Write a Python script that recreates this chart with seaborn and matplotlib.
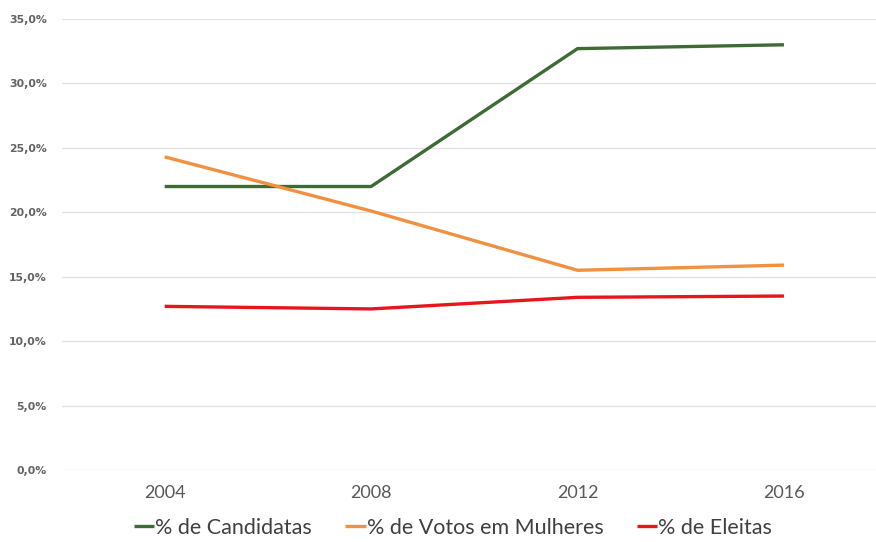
import matplotlib
matplotlib.use("Agg")
import matplotlib.pyplot as plt
import matplotlib.ticker as mticker
import pandas as pd
import seaborn as sns

# Election years and series values (fractions)
anos = ["2004", "2008", "2012", "2016"]
candidatas = [0.220, 0.220, 0.327, 0.330]
votos_mulheres = [0.243, 0.201, 0.155, 0.159]
eleitas = [0.127, 0.125, 0.134, 0.135]

series_nomes = ["% de Candidatas", "% de Votos em Mulheres", "% de Eleitas"]
cores = ["#3E6B35", "#F1903F", "#E8161C"]

df = pd.DataFrame({
    "ano": anos * 3,
    "valor": candidatas + votos_mulheres + eleitas,
    "serie": [series_nomes[0]] * 4 + [series_nomes[1]] * 4 + [series_nomes[2]] * 4,
})
df["pos"] = df["ano"].map({a: i for i, a in enumerate(anos)})

sns.set_theme(style="white")
plt.rcParams["font.family"] = ["Lato", "DejaVu Sans"]

fig = plt.figure(figsize=(8.76, 5.42), dpi=100)
ax = fig.add_axes([62 / 876, 72 / 542, 1 - 62 / 876, 451 / 542])

sns.lineplot(
    data=df, x="pos", y="valor", hue="serie", hue_order=series_nomes,
    palette=cores, linewidth=2.4, ax=ax, legend=True,
)
for ln in ax.lines:
    ln.set_solid_capstyle("butt")

ax.set_xlim(-0.4975, 3.446)
ax.set_ylim(0, 0.35)
ax.set_xticks(range(len(anos)))
ax.set_xticklabels(anos, fontsize=13, color="#595959")
ax.yaxis.set_major_locator(mticker.MultipleLocator(0.05))
ax.yaxis.set_major_formatter(
    mticker.FuncFormatter(lambda v, _: f"{v * 100:.1f}%".replace(".", ","))
)
for lab in ax.get_yticklabels():
    lab.set_fontsize(7.8)
    lab.set_color("#636363")
    lab.set_fontweight("bold")
    lab.set_family("DejaVu Sans")
ax.tick_params(axis="y", length=0, pad=11)
ax.tick_params(axis="x", length=0, pad=11)
ax.grid(axis="y", color="#E3E3E3", linewidth=1.0)
ax.grid(axis="x", visible=False)
ax.set_axisbelow(True)
for s in ax.spines.values():
    s.set_visible(False)
ax.set_xlabel("")
ax.set_ylabel("")

handles, labels = ax.get_legend_handles_labels()
ax.get_legend().remove()
fig.legend(
    handles, labels, loc="center", bbox_to_anchor=(453 / 876, 1 - 528 / 542),
    ncol=3, frameon=False, fontsize=15.5, handlelength=0.95, handletextpad=0.05,
    columnspacing=1.55, labelcolor="#404040",
)

fig.savefig("out.png", dpi=100)
